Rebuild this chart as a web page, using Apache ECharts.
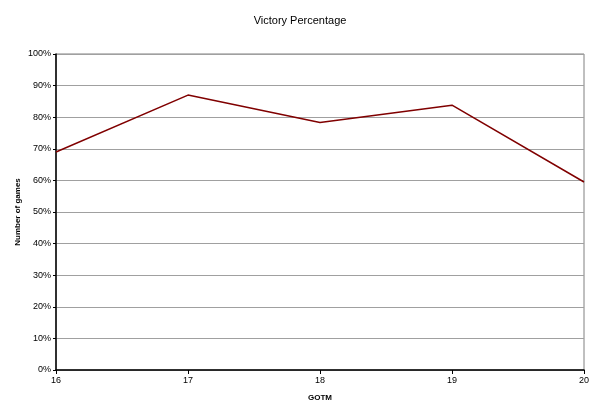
<!DOCTYPE html>
<html>
<head>
<meta charset="utf-8">
<script src="https://cdn.jsdelivr.net/npm/echarts@6/dist/echarts.min.js"></script>
<style>
  html, body { margin: 0; padding: 0; background: #fff; }
  #chart { width: 600px; height: 416px; }
</style>
</head>
<body>
<div id="chart"></div>
<script>
// GOTM numbers on the x axis
var gotm = ['16', '17', '18', '19', '20']
// victory percentage per GOTM
var victoryPct = [69, 87, 78.3, 83.8, 59.5]

var chart = echarts.init(document.getElementById('chart'))
chart.setOption({
  backgroundColor: '#fff',
  textStyle: { fontFamily: 'Liberation Sans, Arial, sans-serif' },
  title: {
    text: 'Victory Percentage',
    left: 'center',
    top: 10,
    textStyle: { fontSize: 11, fontWeight: 'normal', color: '#000' }
  },
  grid: {
    left: 56,
    right: 16,
    top: 54,
    bottom: 46,
    show: true,
    borderColor: '#808080',
    borderWidth: 1
  },
  xAxis: {
    type: 'category',
    data: gotm,
    boundaryGap: false,
    name: 'GOTM',
    nameLocation: 'middle',
    nameGap: 24,
    nameTextStyle: { fontSize: 8, fontWeight: 'bold', color: '#000' },
    axisLine: { lineStyle: { color: '#000', width: 1.5 } },
    axisTick: { length: 4, lineStyle: { color: '#000' } },
    axisLabel: { fontSize: 9, color: '#000', margin: 6 }
  },
  yAxis: {
    type: 'value',
    min: 0,
    max: 100,
    interval: 10,
    name: 'Number of games',
    nameLocation: 'middle',
    nameGap: 34,
    nameMoveOverlap: false,
    nameTextStyle: { fontSize: 8, fontWeight: 'bold', color: '#000' },
    axisLine: { show: true, lineStyle: { color: '#000', width: 1.5 } },
    axisTick: { show: true, length: 3, lineStyle: { color: '#000' } },
    axisLabel: { fontSize: 9, color: '#000', margin: 5, formatter: '{value}%' },
    splitLine: { lineStyle: { color: '#a0a0a0', width: 1 } }
  },
  series: [
    {
      type: 'line',
      data: victoryPct,
      symbol: 'none',
      lineStyle: { color: '#800000', width: 1.5 },
      animation: false
    }
  ]
})
</script>
</body>
</html>
